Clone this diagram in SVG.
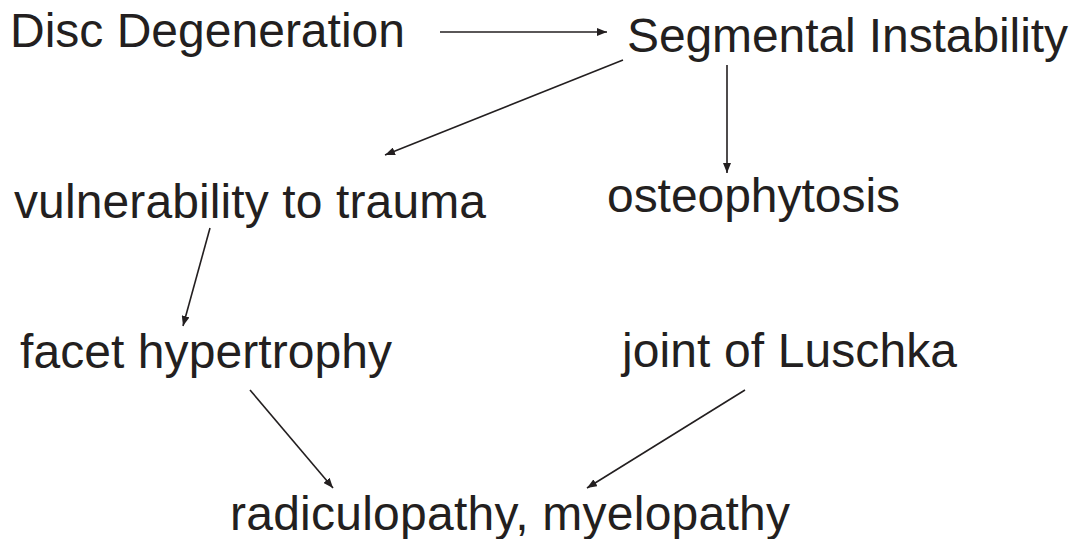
<svg xmlns="http://www.w3.org/2000/svg" width="1080" height="539" viewBox="0 0 1080 539">
<defs>
<style>
text{font-family:"Liberation Sans",Arial,Helvetica,sans-serif;font-size:48px;fill:#231f20}
.c line{stroke:#231f20;stroke-width:1.6;fill:none;marker-end:url(#ah)}
</style>
<marker id="ah" viewBox="0 0 10 8" refX="10" refY="4" markerWidth="10" markerHeight="8" markerUnits="userSpaceOnUse" orient="auto">
<path d="M0,0 L10,4 L0,8 Z" fill="#231f20"/>
</marker>
</defs>
<rect width="1080" height="539" fill="#fff"/>
<g id="disc"><text x="10" y="47" textLength="395">Disc Degeneration</text></g>
<g id="segmental"><text x="627" y="52" textLength="441">Segmental Instability</text></g>
<g id="vulnerability"><text x="14" y="218" textLength="472">vulnerability to trauma</text></g>
<g id="osteophytosis"><text x="607" y="212" textLength="293">osteophytosis</text></g>
<g id="facet"><text x="20" y="368" textLength="372">facet hypertrophy</text></g>
<g id="luschka"><text x="622" y="367" textLength="335">joint of Luschka</text></g>
<g id="radiculopathy"><text x="230" y="530" textLength="560">radiculopathy, myelopathy</text></g>
<g id="connectors" class="c">
<line x1="440" y1="32" x2="607" y2="32"/>
<line x1="623" y1="60" x2="385" y2="155"/>
<line x1="727" y1="65" x2="727" y2="173"/>
<line x1="210" y1="228" x2="183" y2="326"/>
<line x1="250" y1="390" x2="333" y2="488"/>
<line x1="745" y1="390" x2="587" y2="488"/>
</g>
</svg>
